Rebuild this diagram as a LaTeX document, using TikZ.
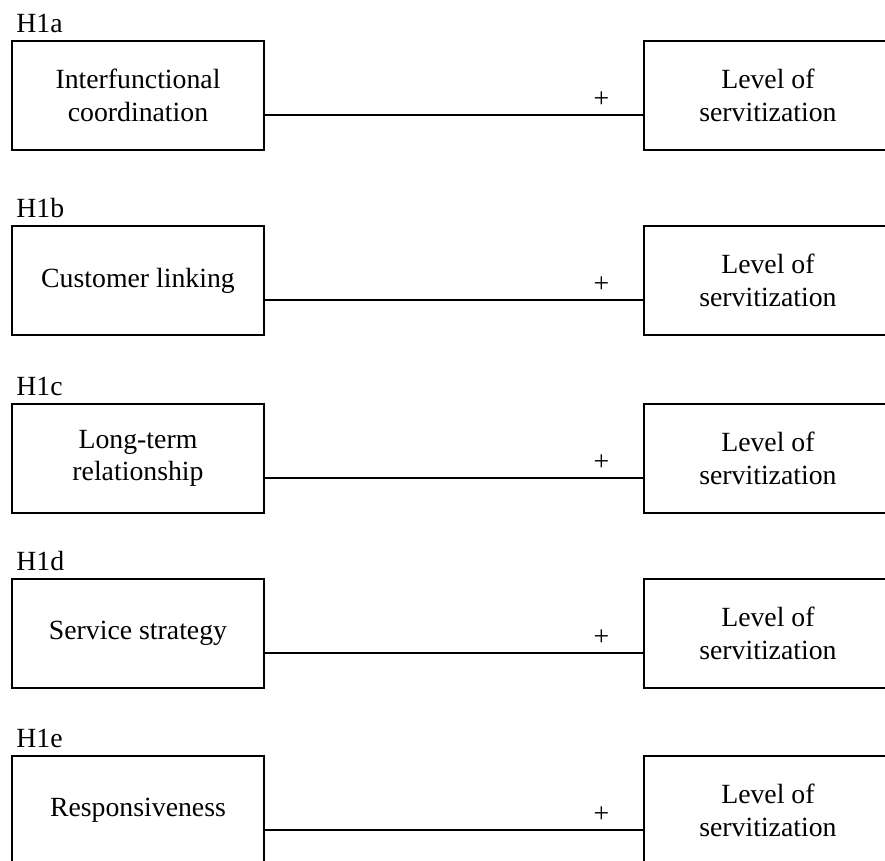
\documentclass[tikz,border=0pt]{standalone}
\usepackage{fontspec}
\setmainfont{Liberation Serif}
\usepackage{tikz}
\usetikzlibrary{positioning}
\tikzset{
  lbox/.style={draw=black, line width=1.1pt, align=center, minimum width=5.04cm,
    minimum height=2.18cm, inner sep=2pt, font=\fontsize{15.8}{18.4}\selectfont},
  rbox/.style={draw=black, line width=1.1pt, align=center, minimum width=4.96cm,
    minimum height=2.18cm, inner sep=2pt, font=\fontsize{15.8}{18.4}\selectfont},
  hyp/.style={inner sep=0pt, font=\fontsize{15.8}{18.4}\selectfont},
  link/.style={line width=1pt, draw=black},
  plus/.style={pos=0.89, yshift=0.3cm, inner sep=0pt, font=\fontsize{15.8}{18.4}\selectfont},
}

\begin{document}
\begin{tikzpicture}[node distance=1.34cm and 7.56cm]
  \clip (0,0) rectangle (17.7,-17.2);
  % left column
  \node[lbox] (l1) at (2.76,-1.91) {Interfunctional\\coordination};
  \node[lbox, below=1.48cm of l1] (l2) {Customer linking};
  \node[lbox, below=1.34cm of l2] (l3) {Long-term\\relationship};
  \node[lbox, below=1.28cm of l3] (l4) {Service strategy};
  \node[lbox, below=1.32cm of l4] (l5) {Responsiveness};
  % right column
  \node[rbox, right=of l1] (r1) {Level of\\servitization};
  \node[rbox, right=of l2] (r2) {Level of\\servitization};
  \node[rbox, right=of l3] (r3) {Level of\\servitization};
  \node[rbox, right=of l4] (r4) {Level of\\servitization};
  \node[rbox, right=of l5] (r5) {Level of\\servitization};
  % hypothesis labels
  \node[hyp, above=0.14cm of l1.north west, anchor=south west, xshift=0.1cm] (h1) {H1a};
  \node[hyp, above=0.14cm of l2.north west, anchor=south west, xshift=0.1cm] (h2) {H1b};
  \node[hyp, above=0.14cm of l3.north west, anchor=south west, xshift=0.1cm] (h3) {H1c};
  \node[hyp, above=0.14cm of l4.north west, anchor=south west, xshift=0.1cm] (h4) {H1d};
  \node[hyp, above=0.14cm of l5.north west, anchor=south west, xshift=0.1cm] (h5) {H1e};
  % links
  \draw[link] ([yshift=-0.39cm]l1.east) -- node[plus] {+} ([yshift=-0.39cm]r1.west);
  \draw[link] ([yshift=-0.39cm]l2.east) -- node[plus] {+} ([yshift=-0.39cm]r2.west);
  \draw[link] ([yshift=-0.39cm]l3.east) -- node[plus] {+} ([yshift=-0.39cm]r3.west);
  \draw[link] ([yshift=-0.39cm]l4.east) -- node[plus] {+} ([yshift=-0.39cm]r4.west);
  \draw[link] ([yshift=-0.39cm]l5.east) -- node[plus] {+} ([yshift=-0.39cm]r5.west);
\end{tikzpicture}
\end{document}
